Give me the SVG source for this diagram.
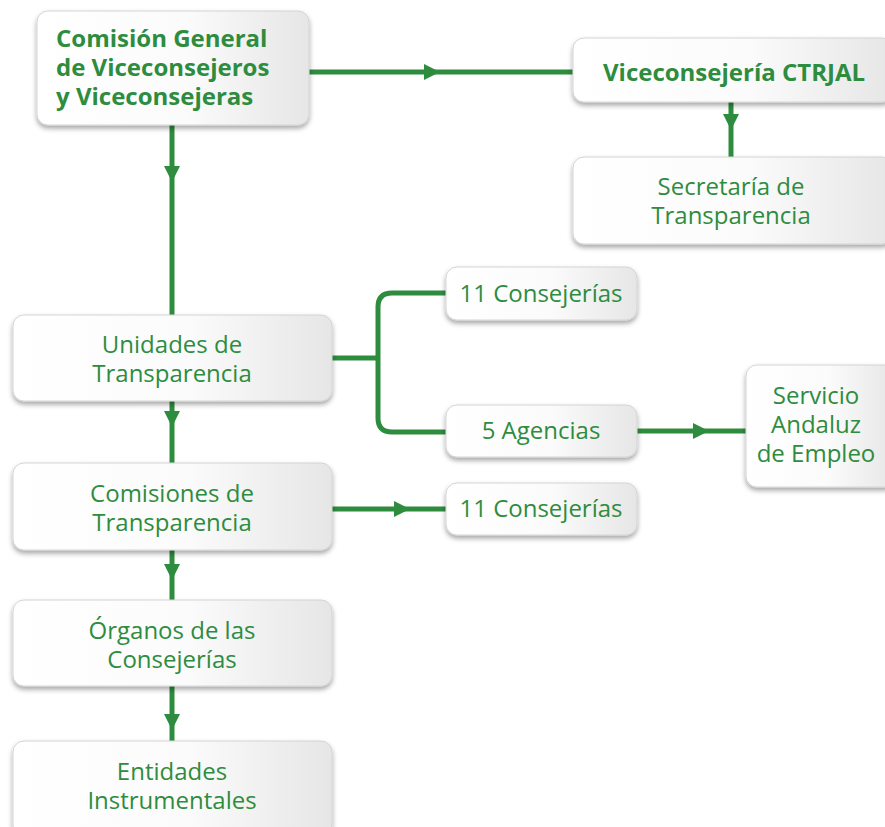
<svg xmlns="http://www.w3.org/2000/svg" width="885" height="827" viewBox="0 0 885 827">
<defs>
<linearGradient id="bg" x1="0" y1="0" x2="1" y2="0">
<stop offset="0" stop-color="#ffffff"/>
<stop offset="0.55" stop-color="#fbfbfb"/>
<stop offset="1" stop-color="#e6e6e6"/>
</linearGradient>
<filter id="sh" x="-10%" y="-10%" width="120%" height="130%">
<feDropShadow dx="0" dy="3" stdDeviation="2.5" flood-color="#000" flood-opacity="0.35"/>
</filter>
<marker id="ar" viewBox="0 0 16 16" refX="16" refY="8" markerWidth="16" markerHeight="16" markerUnits="userSpaceOnUse" orient="auto">
<path d="M0,0 L16,8 L0,16 Z" fill="#2e8c3f"/>
</marker>
</defs>
<style>
.box{fill:url(#bg);stroke:#d4d4d4;stroke-width:1;filter:url(#sh)}
.t{font-family:"Open Sans","Noto Sans","DejaVu Sans",sans-serif;font-size:24px;fill:#2e8c3f;text-anchor:middle}
.s{text-anchor:start}
.b{font-weight:bold}
.c{fill:none;stroke:#2e8c3f;stroke-width:5}
</style>
<rect width="885" height="827" fill="#ffffff"/>
<g id="connectors">
<path class="c" d="M309,72 L440,72 L573,72" marker-mid="url(#ar)"/>
<path class="c" d="M731,102 L731,130 L731,157" marker-mid="url(#ar)"/>
<path class="c" d="M172,125 L172,182 L172,315" marker-mid="url(#ar)"/>
<path class="c" d="M172,401 L172,427 L172,463" marker-mid="url(#ar)"/>
<path class="c" d="M172,550 L172,580 L172,600" marker-mid="url(#ar)"/>
<path class="c" d="M172,686 L172,730 L172,741" marker-mid="url(#ar)"/>
<path class="c" d="M332,509 L410,509 L446,509" marker-mid="url(#ar)"/>
<path class="c" d="M637,431 L709,431 L746,431" marker-mid="url(#ar)"/>
<path class="c" d="M332,358 L378,358"/>
<path class="c" d="M446,293 L392,293 Q378,293 378,307 L378,418 Q378,432 392,432 L446,432"/>
</g>
<g id="n-comision">
<rect class="box" x="37" y="11" width="272" height="114" rx="11"/>
<text class="t b s" x="56" y="47">Comisión General</text>
<text class="t b s" x="56" y="76">de Viceconsejeros</text>
<text class="t b s" x="56" y="105">y Viceconsejeras</text>
</g>
<g id="n-vice">
<rect class="box" x="573" y="38" width="320" height="64" rx="11"/>
<text class="t b" x="734" y="81">Viceconsejería CTRJAL</text>
</g>
<g id="n-secretaria">
<rect class="box" x="573" y="157" width="320" height="87" rx="11"/>
<text class="t" x="731" y="195">Secretaría de</text>
<text class="t" x="731" y="224">Transparencia</text>
</g>
<g id="n-unidades">
<rect class="box" x="13" y="315" width="319" height="86" rx="11"/>
<text class="t" x="172" y="353">Unidades de</text>
<text class="t" x="172" y="382">Transparencia</text>
</g>
<g id="n-comisiones">
<rect class="box" x="13" y="463" width="319" height="87" rx="11"/>
<text class="t" x="172" y="502">Comisiones de</text>
<text class="t" x="172" y="531">Transparencia</text>
</g>
<g id="n-organos">
<rect class="box" x="13" y="600" width="319" height="86" rx="11"/>
<text class="t" x="172" y="639">Órganos de las</text>
<text class="t" x="172" y="668">Consejerías</text>
</g>
<g id="n-entidades">
<rect class="box" x="13" y="741" width="319" height="95" rx="11"/>
<text class="t" x="172" y="780">Entidades</text>
<text class="t" x="172" y="809">Instrumentales</text>
</g>
<g id="n-cons1">
<rect class="box" x="446" y="267" width="191" height="53" rx="11"/>
<text class="t" x="541" y="302">11 Consejerías</text>
</g>
<g id="n-agencias">
<rect class="box" x="446" y="405" width="191" height="52" rx="11"/>
<text class="t" x="541" y="439">5 Agencias</text>
</g>
<g id="n-cons2">
<rect class="box" x="446" y="483" width="191" height="52" rx="11"/>
<text class="t" x="541" y="517">11 Consejerías</text>
</g>
<g id="n-sae">
<rect class="box" x="746" y="365" width="150" height="122" rx="11"/>
<text class="t" x="816" y="404">Servicio</text>
<text class="t" x="816" y="433">Andaluz</text>
<text class="t" x="816" y="462">de Empleo</text>
</g>
</svg>
